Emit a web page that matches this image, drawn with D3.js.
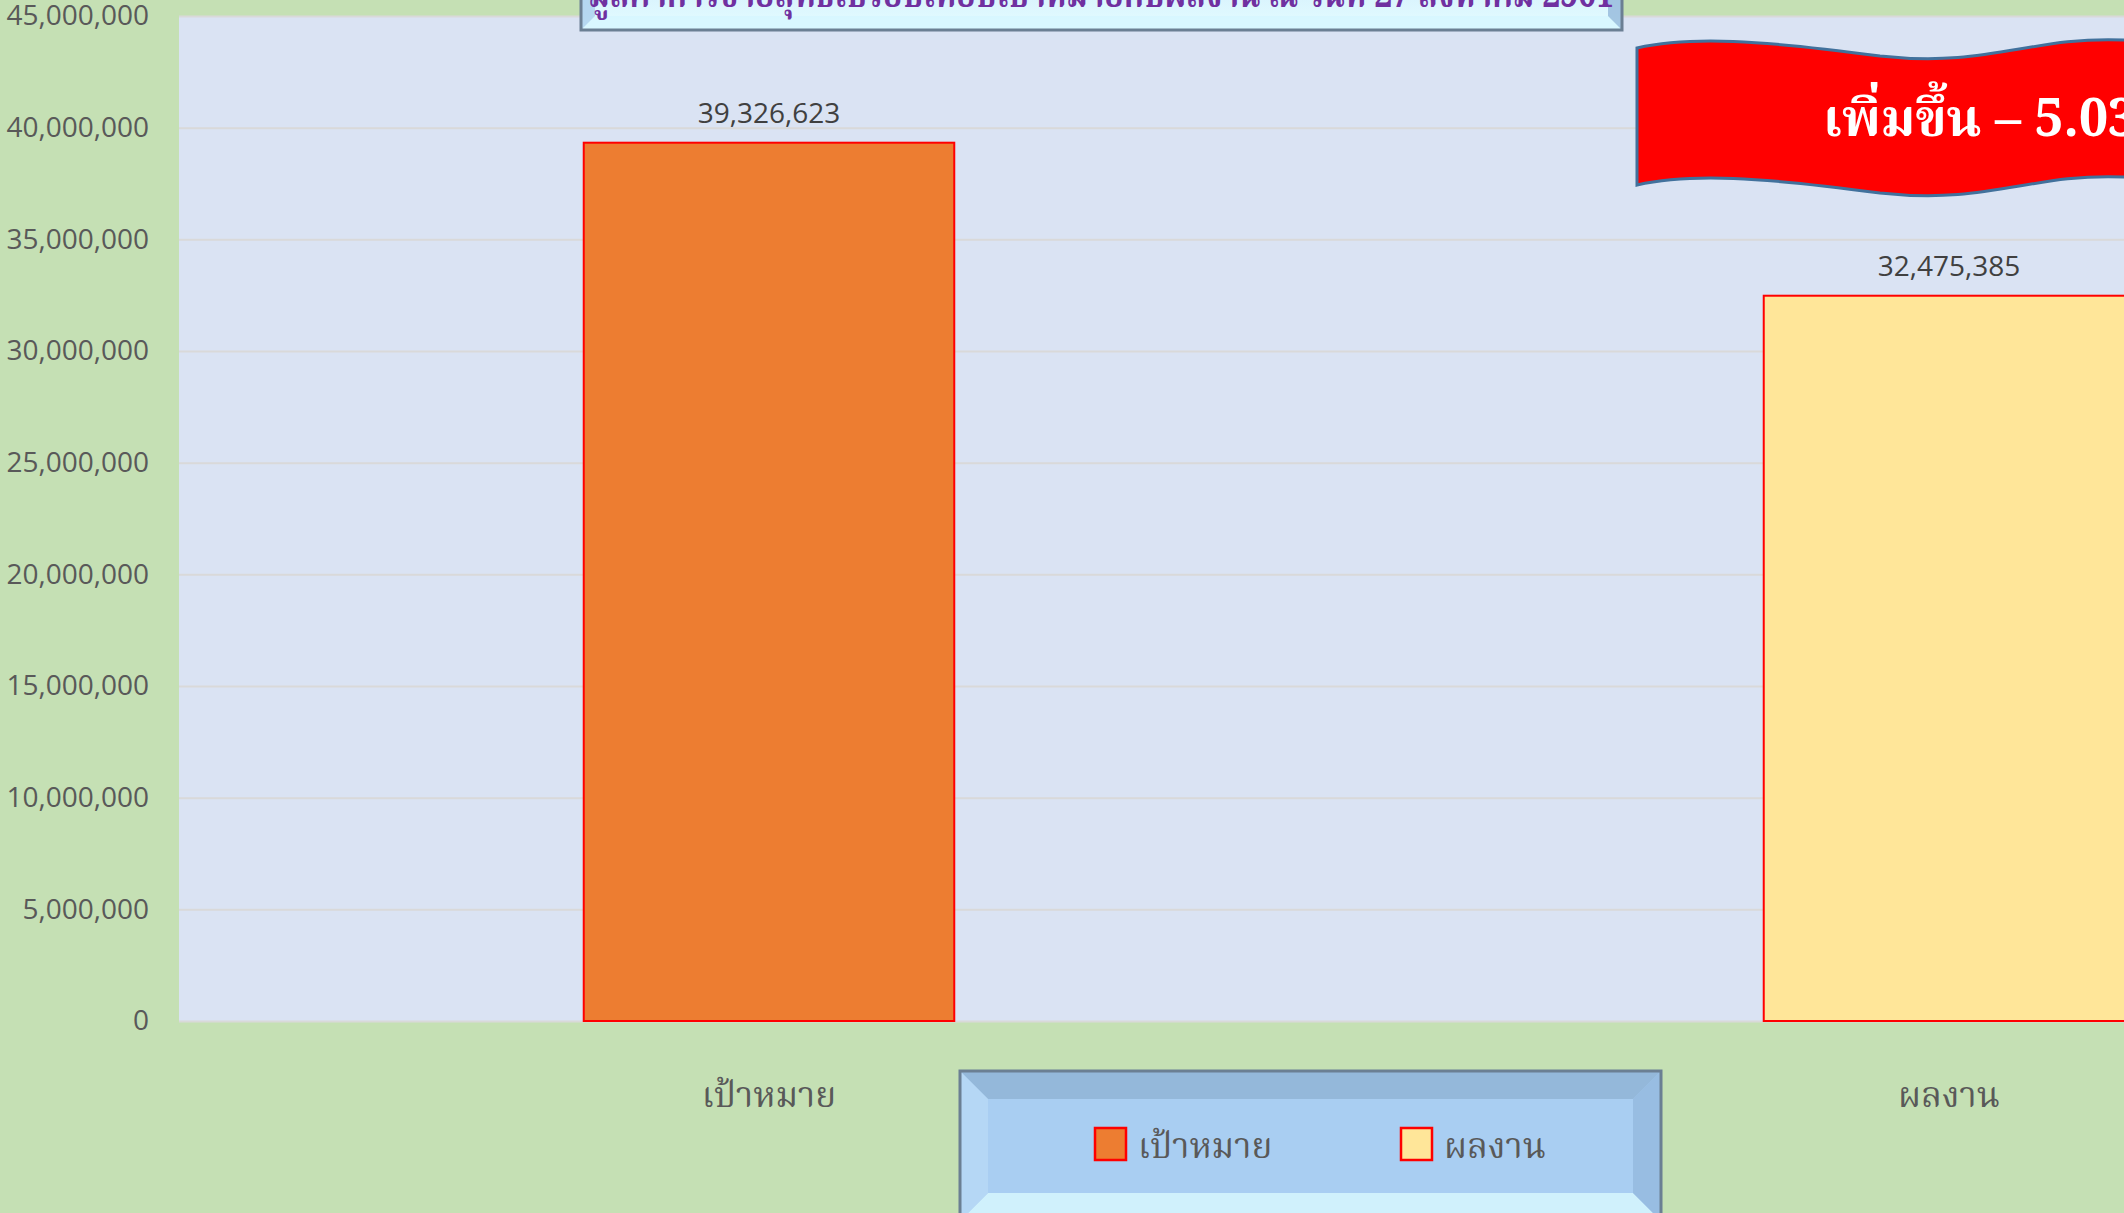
<!DOCTYPE html>
<html lang="th">
<head>
<meta charset="UTF-8">
<script src="https://d3js.org/d3.v7.min.js"></script>
<title>chart</title>
<style>
  html, body { margin: 0; padding: 0; background: #C5E0B4; overflow: hidden; }
  svg { display: block; }
</style>
</head>
<body>
<div id="container"></div>
<script>
// ข้อมูล
var categories = ["เป้าหมาย", "ผลงาน"];
var values = [39326623, 32475385];
var colors = ["#ED7D31", "#FFE699"];
var yTicks = [0, 5000000, 10000000, 15000000, 20000000, 25000000, 30000000, 35000000, 40000000, 45000000];
var titleText = "มูลค่าการขายสุทธิเปรียบเทียบเป้าหมายกับผลงาน ณ วันที่ 27 สิงหาคม 2561";
var bannerText = "เพิ่มขึ้น – 5.03%";

var W = 2124, H = 1213;
var plot = {left: 179, top: 16, bottom: 1021, right: 2124};
var thaiSerif = "'Angsana New','TH Sarabun New','Noto Serif Thai','Noto Sans Thai','Loma','Garuda',serif";
var latin = "'Open Sans','Noto Sans',sans-serif";

var svg = d3.select("#container").append("svg").attr("width", W).attr("height", H);
var defs = svg.append("defs");

// พื้นหลัง
svg.append("rect").attr("width", W).attr("height", H).attr("fill", "#C5E0B4");
svg.append("rect").attr("x", plot.left).attr("y", plot.top)
  .attr("width", plot.right - plot.left).attr("height", plot.bottom - plot.top)
  .attr("fill", "#DAE3F3");

var y = d3.scaleLinear().domain([0, 45000000]).range([plot.bottom, plot.top]);
var x = d3.scaleBand().domain(categories).range([plot.left, plot.left + 2360])
  .paddingInner(0.686).paddingOuter(0.343);

// เส้นกริด + แกน y
var yAxis = d3.axisLeft(y).tickValues(yTicks).tickFormat(d3.format(","))
  .tickSize(-(plot.right - plot.left)).tickPadding(30);
var gy = svg.append("g").attr("transform", "translate(" + plot.left + ",0)").call(yAxis);
gy.select(".domain").remove();
gy.selectAll(".tick line").attr("stroke", "#D9D9D9").attr("stroke-width", 2);
gy.selectAll(".tick text").attr("fill", "#595959").style("font-family", latin).style("font-size", "28px");

// แท่ง
svg.selectAll(".bar").data(categories).enter().append("rect")
  .attr("class", "bar")
  .attr("x", function(d){ return x(d); })
  .attr("y", function(d, i){ return y(values[i]); })
  .attr("width", x.bandwidth())
  .attr("height", function(d, i){ return plot.bottom - y(values[i]); })
  .attr("fill", function(d, i){ return colors[i]; })
  .attr("stroke", "#FF0000").attr("stroke-width", 2);

// ป้ายค่า
svg.selectAll(".val").data(categories).enter().append("text")
  .attr("x", function(d){ return x(d) + x.bandwidth() / 2; })
  .attr("y", function(d, i){ return y(values[i]) - 20; })
  .attr("text-anchor", "middle").attr("fill", "#404040")
  .style("font-family", latin).style("font-size", "28px")
  .text(function(d, i){ return d3.format(",")(values[i]); });

// ป้ายหมวด
var xAxis = d3.axisBottom(x).tickSize(0).tickPadding(0);
var gx = svg.append("g").attr("transform", "translate(0," + plot.bottom + ")").call(xAxis);
gx.select(".domain").remove();
gx.selectAll(".tick text").attr("dy", 0).attr("y", 86).attr("fill", "#595959")
  .style("font-family", thaiSerif).style("font-size", "35px");

// กล่องนูน (bevel)
function bevelBox(g, bx, by, bw, bh, b, face, topC, botC, sideL, sideR, id) {
  var gr = defs.append("linearGradient").attr("id", id).attr("x1", 0).attr("y1", 0).attr("x2", 0).attr("y2", 1);
  gr.append("stop").attr("offset", "0%").attr("stop-color", face[0]);
  gr.append("stop").attr("offset", "100%").attr("stop-color", face[1]);
  g.append("rect").attr("x", bx).attr("y", by).attr("width", bw).attr("height", bh).attr("fill", "url(#" + id + ")");
  var x0 = bx, x1 = bx + bw, y0 = by, y1 = by + bh;
  var polys = [
    [[x0, y0], [x1, y0], [x1 - b, y0 + b], [x0 + b, y0 + b], topC],
    [[x0, y1], [x1, y1], [x1 - b, y1 - b], [x0 + b, y1 - b], botC],
    [[x0, y0], [x0 + b, y0 + b], [x0 + b, y1 - b], [x0, y1], sideL],
    [[x1, y0], [x1 - b, y0 + b], [x1 - b, y1 - b], [x1, y1], sideR]
  ];
  polys.forEach(function(p){
    g.append("polygon").attr("points", p.slice(0, 4).map(function(q){ return q.join(","); }).join(" "))
      .attr("fill", p[4]).attr("opacity", 0.75);
  });
  g.append("rect").attr("x", bx).attr("y", by).attr("width", bw).attr("height", bh)
    .attr("fill", "none").attr("stroke", "#6B7F93").attr("stroke-width", 3);
}

// กล่องชื่อแผนภูมิ
var tg = svg.append("g");
bevelBox(tg, 581, -60, 1041, 90, 14, ["#C8E6FA", "#E4FCFF"], "#9DC3E6", "#D6F6FF", "#A7CCEC", "#8FB4D8", "gTitle");
tg.append("text").attr("x", 1101).attr("y", 7).attr("text-anchor", "middle")
  .attr("textLength", 1025).attr("lengthAdjust", "spacingAndGlyphs")
  .attr("fill", "#7030A0").style("font-family", thaiSerif).style("font-weight", "bold").style("font-size", "42px")
  .text(titleText);

// ธงแดง
var bx0 = 1637, bx1 = 2300, bh = 137;
var banner = "M" + bx0 + ",48 C1690,36 1760,40 1880,56 C1990,68 2030,36 2124,40 L" + bx1 + ",44 " +
  "L" + bx1 + "," + (44 + bh) + " L2124," + (40 + bh) + " C2030," + (36 + bh) + " 1990," + (68 + bh) + " 1880," + (56 + bh) +
  " C1760," + (40 + bh) + " 1690," + (36 + bh) + " " + bx0 + "," + (48 + bh) + " Z";
svg.append("path").attr("d", banner).attr("fill", "#FF0000").attr("stroke", "#41719C").attr("stroke-width", 3);
svg.append("text").attr("x", 1823).attr("y", 136).attr("fill", "#FFFFFF")
  .style("font-family", "'Angsana New','Noto Serif Thai','Liberation Serif',serif")
  .style("font-weight", "bold").style("font-size", "52px")
  .text(bannerText);

// คำอธิบาย
var lg = svg.append("g");
bevelBox(lg, 960, 1071, 701, 150, 28, ["#A9CEF2", "#A9CEF2"], "#8EB0D2", "#DDFCFF", "#B9DAF6", "#93B7DC", "gLegend");
var legX = [1095, 1401];
var li = lg.selectAll(".leg").data(categories).enter().append("g")
  .attr("transform", function(d, i){ return "translate(" + legX[i] + ",1128)"; });
li.append("rect").attr("width", 31).attr("height", 32)
  .attr("fill", function(d, i){ return colors[i]; }).attr("stroke", "#FF0000").attr("stroke-width", 2.5);
li.append("text").attr("x", 43).attr("y", 30).attr("fill", "#595959")
  .style("font-family", thaiSerif).style("font-size", "35px")
  .text(function(d){ return d; });
</script>
</body>
</html>
